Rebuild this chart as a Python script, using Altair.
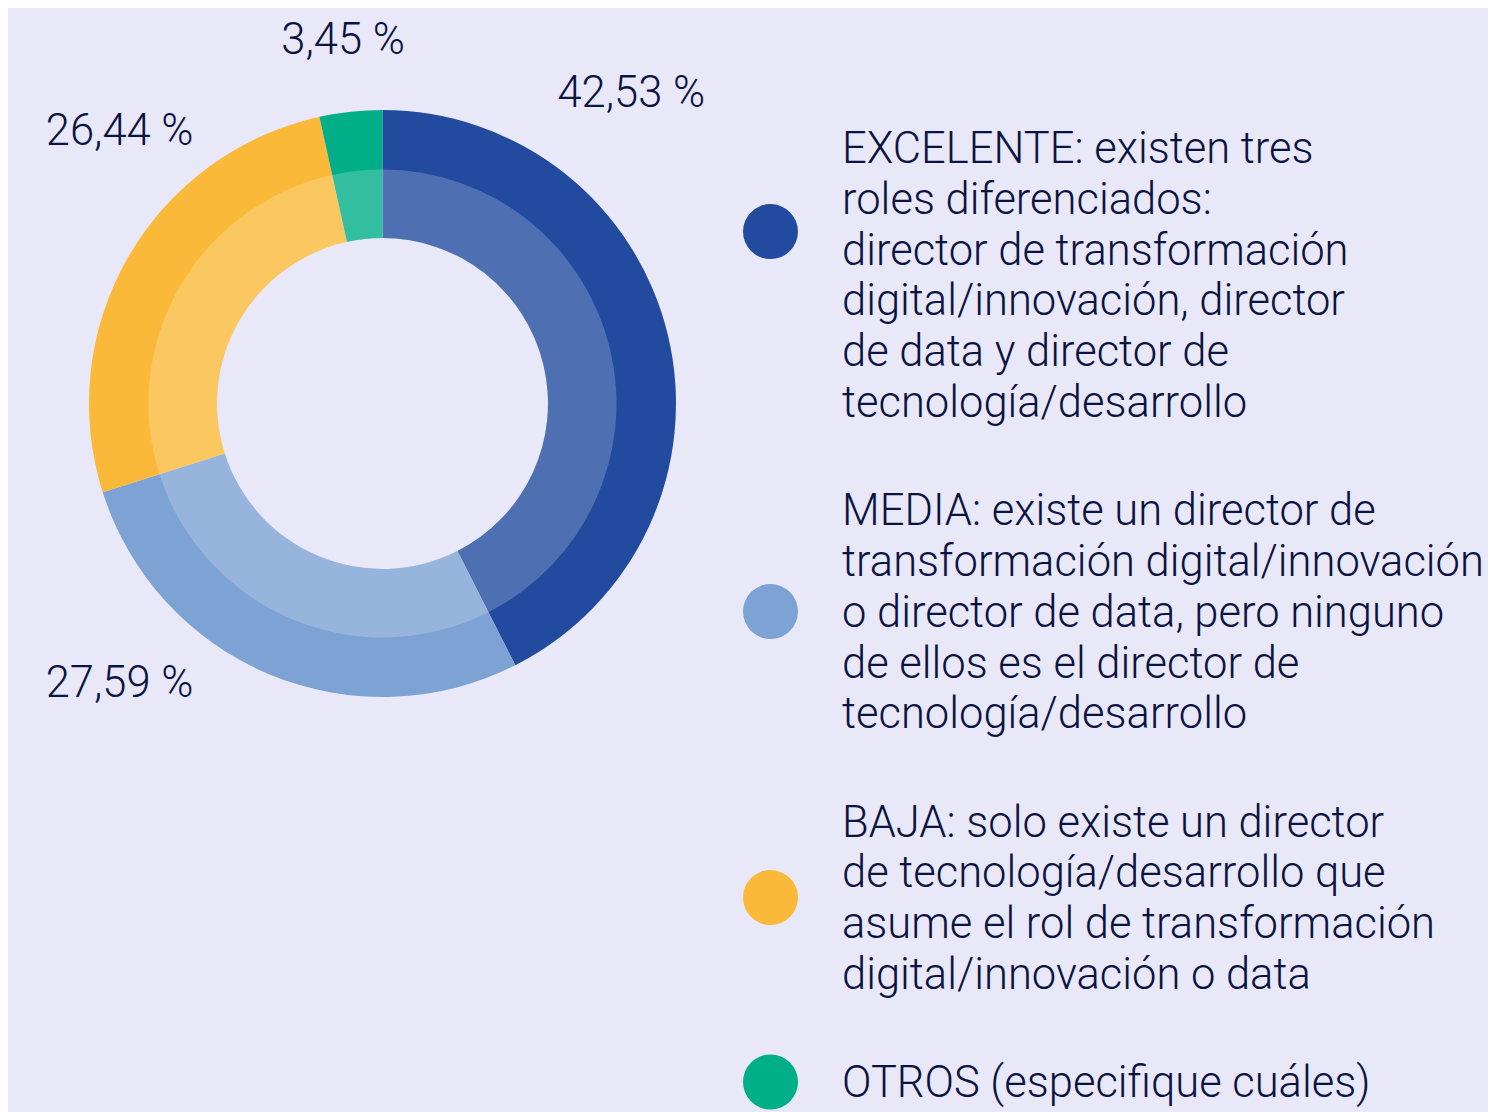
import altair as alt
import pandas as pd

# ---------------- data ----------------
categories = ["EXCELENTE", "MEDIA", "BAJA", "OTROS"]
values = [42.53, 27.59, 26.44, 3.45]
legend_texts = [
    "EXCELENTE: existen tres\nroles diferenciados:\ndirector de transformación\ndigital/innovación, director\nde data y director de\ntecnología/desarrollo",
    "MEDIA: existe un director de\ntransformación digital/innovación\no director de data, pero ninguno\nde ellos es el director de\ntecnología/desarrollo",
    "BAJA: solo existe un director\nde tecnología/desarrollo que\nasume el rol de transformación\ndigital/innovación o data",
    "OTROS (especifique cuáles)",
]

# ---------------- styles / layout ----------------
outer_colors = ["#224B9F", "#7DA2D4", "#FBB93A", "#00AF87"]
bg = "#E8E8F8"
ink = "#0B1341"
font = "Roboto"
fsize = 43.5
fweight = 300

cx, cy = 374.5, 395.5          # donut centre (chart coords)
r_out, r_mid, r_in = 293.5, 234, 165.5
label_r = 300
# per-label nudges (dx, dy) away from the slice mid-angle
label_nudge = {"EXCELENTE": (-43, -227), "MEDIA": (-147, 17), "BAJA": (-3, -109), "OTROS": (-7, -51)}

line_h = 50.8
block_gap = 1.13               # extra blank space between legend blocks, in lines
marker_line = [1.65, 2.0, 1.5, 0.0]
cap_mid = 0.3                  # cap-height centre above baseline, in lines
legend_y0 = 155
legend_text_x = 834
legend_dot_x = 762.5
dot_size = 55 * 55

df = pd.DataFrame({
    "category": categories,
    "value": values,
    "idx": list(range(len(categories))),
    "pct": [f"{v:.2f}".replace(".", ",") + " %" for v in values],
})

rows = []
start = 0.0
for i, t in enumerate(legend_texts):
    n = t.count("\n") + 1
    rows.append({"category": categories[i], "text": t, "start_row": start,
                 "dot_row": start + marker_line[i] - cap_mid, "idx": i})
    start += n + block_gap
ldf = pd.DataFrame(rows)

color_scale = alt.Scale(domain=categories, range=outer_colors)
theta = alt.Theta("value:Q", stack=True)
order = alt.Order("idx:Q")
base = alt.Chart(df)

outer = base.mark_arc(radius=r_out, radius2=r_in, stroke=None).encode(
    theta=theta, order=order,
    color=alt.Color("category:N", scale=color_scale, legend=None),
    x=alt.value(cx), y=alt.value(cy),
)
overlay = base.mark_arc(radius=r_mid, radius2=r_in, fill="white", opacity=0.2).encode(
    theta=theta, order=order, x=alt.value(cx), y=alt.value(cy),
)

label_layers = []
for cat in categories:
    dx, dy = label_nudge[cat]
    label_layers.append(
        base.transform_calculate(lab=f"datum.category == '{cat}' ? datum.pct : ''")
        .mark_text(radius=label_r, dx=dx, dy=dy, align="center", baseline="alphabetic",
                   font=font, fontSize=fsize, fontWeight=fweight, color=ink)
        .encode(theta=theta, order=order, text="lab:N", x=alt.value(cx), y=alt.value(cy))
    )

yscale = alt.Scale(domain=[0, 20], range=[legend_y0, legend_y0 + 20 * line_h])
lbase = alt.Chart(ldf)
dots = lbase.mark_point(shape="circle", filled=True, size=dot_size, opacity=1).encode(
    x=alt.value(legend_dot_x),
    y=alt.Y("dot_row:Q", scale=yscale, axis=None),
    color=alt.Color("category:N", scale=color_scale, legend=None),
)
ltext = lbase.mark_text(align="left", baseline="alphabetic", lineBreak="\n", lineHeight=line_h,
                        font=font, fontSize=fsize, fontWeight=fweight, color=ink).encode(
    x=alt.value(legend_text_x),
    y=alt.Y("start_row:Q", scale=yscale, axis=None),
    text="text:N",
)

chart = alt.layer(outer, overlay, *label_layers, dots, ltext).properties(
    width=1480, height=1104, background=bg, padding=0,
    autosize=alt.AutoSizeParams(type="none"),
).configure_view(stroke=None)

chart.save("out.html", embed_options={"renderer": "svg", "actions": False})
